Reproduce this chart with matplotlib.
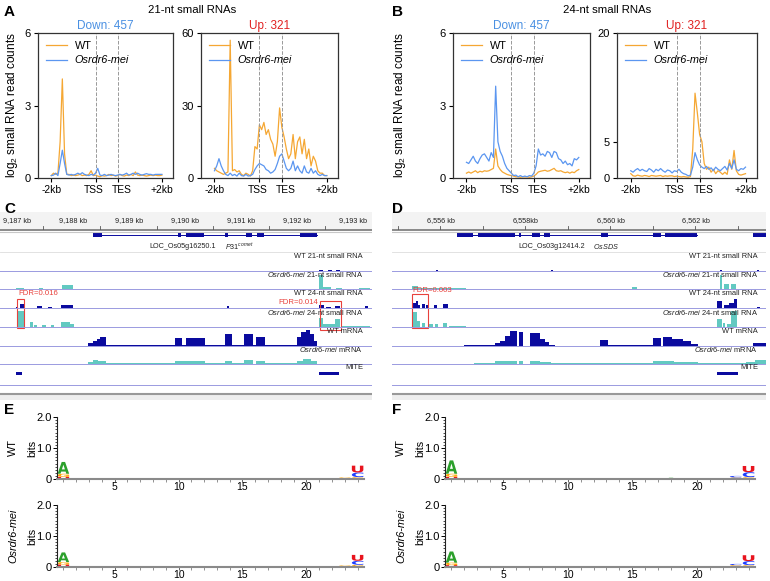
import matplotlib
matplotlib.use("Agg")
import matplotlib.pyplot as plt
from matplotlib.textpath import TextPath
from matplotlib.patches import PathPatch, Rectangle
from matplotlib.font_manager import FontProperties
from matplotlib.transforms import Affine2D, ScaledTranslation

plt.rcParams['font.family'] = ['Liberation Sans', 'DejaVu Sans']
plt.rcParams['mathtext.fontset'] = 'custom'
plt.rcParams['mathtext.rm'] = 'Liberation Sans'
plt.rcParams['mathtext.it'] = 'Liberation Sans:italic'

# ---------------- profile data (A, B): bins -2kb .. +2kb ----------------
bins = list(range(0, 101, 2))
a21_down_wt = [0.1, 0.2, 0.15, 0.2, 1.5, 4.1, 1.0, 0.15, 0.15, 0.1, 0.12, 0.1, 0.12, 0.15, 0.1, 0.12, 0.1,
               0.15, 0.3, 0.1, 0.12, 0.08, 0.05, 0.1, 0.08, 0.1, 0.15, 0.1, 0.12, 0.08, 0.1, 0.15, 0.1,
               0.08, 0.12, 0.1, 0.15, 0.1, 0.25, 0.12, 0.1, 0.12, 0.1, 0.08, 0.1, 0.12, 0.1, 0.12, 0.1, 0.1, 0.12]
a21_down_mut = [0.1, 0.12, 0.2, 0.1, 0.6, 1.15, 0.6, 0.15, 0.12, 0.15, 0.12, 0.15, 0.2, 0.15, 0.22, 0.15, 0.12,
                0.1, 0.15, 0.12, 0.2, 0.4, 0.12, 0.1, 0.15, 0.1, 0.12, 0.15, 0.12, 0.1, 0.12, 0.15, 0.12,
                0.15, 0.2, 0.12, 0.15, 0.2, 0.15, 0.2, 0.15, 0.12, 0.15, 0.18, 0.15, 0.15, 0.12, 0.15, 0.15, 0.15, 0.15]
a21_up_wt = [4, 3, 2.5, 2, 1.5, 2, 2.5, 57, 3, 3.5, 2.5, 3, 1.5, 1, 2, 1.5, 0.8, 3, 13, 12, 22, 20, 23, 18, 20,
             16, 14, 9, 15, 29, 21, 17, 12, 8, 10, 18, 8, 15, 17, 10, 16, 8, 12, 5, 9, 7, 3, 2, 2, 1, 1]
a21_up_mut = [3, 5, 8, 5, 3, 1.5, 1, 2, 1, 1.5, 0.8, 2, 1, 0.8, 1.5, 0.8, 1, 1.5, 3.5, 5, 6, 5.5, 5, 3.5, 3,
              2, 2.5, 3.5, 6, 9, 10, 7, 4, 3, 4, 7, 3, 5, 3, 2, 5, 2.5, 2, 4, 2, 3, 1.5, 1, 1.5, 1, 1]
b24_down_wt = [0.2, 0.25, 0.2, 0.25, 0.3, 0.22, 0.28, 0.25, 0.3, 0.28, 0.3, 0.35, 0.4, 1.2, 0.5, 0.35, 0.25,
               0.2, 0.15, 0.12, 0.1, 0.08, 0.05, 0.05, 0.03, 0.05, 0.04, 0.05, 0.03, 0.05, 0.08, 0.15, 0.25,
               0.28, 0.3, 0.32, 0.28, 0.3, 0.35, 0.4, 0.3, 0.28, 0.3, 0.25, 0.22, 0.25, 0.2, 0.25, 0.22, 0.3, 0.35]
b24_down_mut = [0.65, 0.6, 0.75, 0.9, 0.7, 0.6, 0.8, 0.95, 1.0, 0.85, 0.7, 1.05, 0.85, 3.8, 1.5, 1.1, 0.9,
                0.6, 0.4, 0.3, 0.2, 0.1, 0.12, 0.05, 0.1, 0.05, 0.08, 0.05, 0.1, 0.08, 0.2, 0.5, 1.2,
                0.95, 1.0, 0.9, 1.1, 1.05, 0.85, 1.1, 1.05, 0.8, 0.75, 0.6, 0.7, 0.55, 0.6, 0.5, 0.8, 0.75, 0.85]
b24_up_wt = [0.6, 0.3, 0.25, 0.4, 0.3, 0.25, 0.35, 0.3, 0.2, 0.35, 0.3, 0.25, 0.3, 0.35, 0.2, 0.3, 0.25,
             0.3, 0.3, 0.2, 0.25, 0.2, 0.15, 0.2, 0.15, 0.1, 0.2, 4, 11.7, 9, 6, 5, 2, 1.2, 1.5, 0.8, 1.2,
             0.6, 1.0, 0.8, 0.5, 0.8, 0.5, 2.5, 1.2, 3.8, 1, 0.5, 0.4, 0.5, 0.6]
b24_up_mut = [1.0, 0.8, 1.1, 1.3, 1.0, 1.2, 1.0, 0.9, 1.3, 1.1, 0.8, 1.2, 1.0, 1.3, 1.0, 0.8, 1.1, 1.0, 0.7,
              1.0, 0.9, 1.2, 0.8, 0.6, 0.5, 0.3, 0.4, 1.5, 3.5, 2.5, 1.8, 1.5, 1.3, 1.6, 1.2, 1.4, 1.0,
              1.5, 1.2, 1.0, 1.3, 1.6, 1.1, 2.0, 1.3, 2.5, 1.2, 1.0, 1.3, 1.2, 1.5]
pos_ticks = [0, 40, 60, 100]
pos_labels = ['-2kb', 'TSS', 'TES', '+2kb']

# ---------------- genome browser data (C, D): (start_kb, end_kb, height fraction) ----------------
c_gene = (9188.36, 9192.36)
c_exons = [(9188.36, 9188.52), (9189.87, 9189.93), (9190.02, 9190.34), (9190.71, 9190.77),
           (9191.09, 9191.20), (9191.29, 9191.41), (9192.05, 9192.36)]
c_wt21 = [(9192.40, 9192.47, 0.08), (9192.55, 9192.62, 0.05), (9192.70, 9192.76, 0.06)]
c_mut21 = [(9186.98, 9187.12, 0.06), (9187.40, 9187.46, 0.06), (9187.80, 9188.00, 0.22),
           (9192.40, 9192.46, 0.8), (9192.46, 9192.60, 0.1), (9192.70, 9192.80, 0.08), (9193.10, 9193.30, 0.06)]
c_wt24 = [(9186.98, 9187.02, 0.05), (9187.05, 9187.14, 0.25), (9187.35, 9187.45, 0.12),
          (9187.55, 9187.62, 0.08), (9187.78, 9188.00, 0.2), (9190.75, 9190.78, 0.1),
          (9192.40, 9192.48, 0.2), (9192.52, 9192.60, 0.08), (9192.68, 9192.76, 0.12), (9193.22, 9193.26, 0.1)]
c_mut24 = [(9187.02, 9187.14, 0.95), (9187.23, 9187.28, 0.3), (9187.30, 9187.35, 0.12),
           (9187.45, 9187.52, 0.1), (9187.60, 9187.66, 0.12), (9187.78, 9187.95, 0.28), (9187.95, 9188.02, 0.15),
           (9192.40, 9192.46, 0.5), (9192.46, 9192.68, 0.2), (9192.68, 9192.76, 0.45), (9192.80, 9193.30, 0.08)]
c_wtmrna = [(9188.27, 9188.35, 0.15), (9188.35, 9188.42, 0.3), (9188.42, 9188.48, 0.4), (9188.48, 9188.58, 0.5),
            (9188.58, 9189.82, 0.04), (9189.82, 9189.95, 0.45), (9189.95, 9190.02, 0.04), (9190.02, 9190.35, 0.45),
            (9190.35, 9190.72, 0.04), (9190.72, 9190.84, 0.7), (9190.84, 9191.05, 0.04), (9191.05, 9191.21, 0.7),
            (9191.21, 9191.27, 0.04), (9191.27, 9191.43, 0.55), (9191.43, 9192.00, 0.04), (9192.00, 9192.08, 0.5),
            (9192.08, 9192.16, 0.85), (9192.16, 9192.24, 0.95), (9192.24, 9192.30, 0.7), (9192.30, 9192.36, 0.3)]
c_mutmrna = [(9188.27, 9188.35, 0.1), (9188.35, 9188.45, 0.25), (9188.45, 9188.58, 0.18), (9188.58, 9189.82, 0.04),
             (9189.82, 9190.35, 0.15), (9190.35, 9190.72, 0.04), (9190.72, 9190.84, 0.18), (9190.84, 9191.05, 0.04),
             (9191.05, 9191.21, 0.22), (9191.27, 9191.43, 0.15), (9191.43, 9192.00, 0.04), (9192.00, 9192.10, 0.2),
             (9192.10, 9192.25, 0.32), (9192.25, 9192.36, 0.2)]
c_mite = [(9186.98, 9187.09), (9192.39, 9192.75)]
c_fdr = [(9187.00, 9187.13, 'FDR=0.016'), (9192.41, 9192.79, 'FDR=0.014')]

d_gene = (6556.39, 6562.04)
d_exons = [(6556.39, 6556.76), (6556.88, 6557.75), (6557.85, 6557.89), (6558.15, 6558.34), (6558.44, 6558.58),
           (6559.78, 6559.94), (6561.00, 6561.19), (6561.28, 6562.04), (6563.35, 6563.66)]
d_wt21 = [(6555.90, 6555.95, 0.05), (6558.60, 6558.65, 0.05), (6562.58, 6562.62, 0.08), (6563.45, 6563.50, 0.04)]
d_mut21 = [(6555.33, 6555.47, 0.15), (6555.47, 6556.60, 0.05), (6560.51, 6560.62, 0.1),
           (6562.58, 6562.63, 0.8), (6562.66, 6562.80, 0.3), (6562.84, 6562.95, 0.3)]
d_wt24 = [(6555.35, 6555.42, 0.3), (6555.42, 6555.47, 0.4), (6555.47, 6555.52, 0.15), (6555.56, 6555.64, 0.22),
          (6555.66, 6555.71, 0.15), (6555.85, 6555.92, 0.15), (6556.06, 6556.18, 0.22), (6562.51, 6562.62, 0.4),
          (6562.67, 6562.78, 0.2), (6562.80, 6562.90, 0.3), (6562.90, 6562.98, 0.55), (6563.45, 6563.52, 0.05)]
d_mut24 = [(6555.35, 6555.45, 0.9), (6555.45, 6555.52, 0.35), (6555.56, 6555.64, 0.22), (6555.74, 6555.82, 0.15),
           (6555.86, 6555.94, 0.18), (6556.06, 6556.16, 0.22), (6556.20, 6556.60, 0.05), (6562.51, 6562.62, 0.45),
           (6562.64, 6562.70, 0.22), (6562.74, 6562.84, 0.18), (6562.84, 6562.98, 0.95)]
d_wtmrna = [(6556.55, 6557.28, 0.04), (6557.28, 6557.40, 0.15), (6557.40, 6557.52, 0.3), (6557.52, 6557.64, 0.6),
            (6557.64, 6557.80, 0.9), (6557.85, 6557.94, 0.85), (6558.11, 6558.34, 0.75), (6558.34, 6558.45, 0.4),
            (6558.45, 6558.55, 0.25), (6558.55, 6558.70, 0.04), (6559.75, 6559.94, 0.35), (6559.94, 6561.00, 0.04),
            (6561.00, 6561.20, 0.45), (6561.24, 6561.45, 0.55), (6561.45, 6561.70, 0.4), (6561.70, 6561.90, 0.3),
            (6561.90, 6562.05, 0.1), (6562.05, 6563.35, 0.02), (6563.35, 6563.66, 0.2)]
d_mutmrna = [(6556.80, 6557.28, 0.04), (6557.28, 6557.80, 0.15), (6557.85, 6557.94, 0.15), (6558.11, 6558.34, 0.15),
             (6558.34, 6558.60, 0.1), (6558.60, 6559.75, 0.04), (6559.75, 6559.94, 0.08), (6559.94, 6561.00, 0.04),
             (6561.00, 6561.50, 0.15), (6561.50, 6562.05, 0.1), (6562.05, 6563.20, 0.03), (6563.20, 6563.40, 0.1),
             (6563.40, 6563.66, 0.25)]
d_mite = [(6562.51, 6563.00)]
d_fdr = [(6555.33, 6555.71, 'FDR=0.003')]

track_names = ['WT 21-nt small RNA', r'$\it{Osrdr6}$-$\it{mei}$ 21-nt small RNA', 'WT 24-nt small RNA',
               r'$\it{Osrdr6}$-$\it{mei}$ 24-nt small RNA', 'WT mRNA', r'$\it{Osrdr6}$-$\it{mei}$ mRNA']

# ---------------- sequence logo data (E, F): (position, base, bits), bottom to top ----------------
e_wt = [(1, 'U', 0.07), (1, 'G', 0.1), (1, 'A', 0.38), (2, 'G', 0.02), (3, 'C', 0.015),
        (23, 'C', 0.03), (23, 'G', 0.02), (24, 'G', 0.06), (24, 'C', 0.15), (24, 'U', 0.22)]
e_mut = [(1, 'U', 0.08), (1, 'G', 0.08), (1, 'A', 0.31), (2, 'G', 0.02), (3, 'C', 0.015),
         (23, 'C', 0.03), (23, 'G', 0.02), (24, 'G', 0.07), (24, 'C', 0.13), (24, 'U', 0.19)]
f_wt = [(1, 'U', 0.07), (1, 'G', 0.1), (1, 'A', 0.43), (2, 'G', 0.02), (3, 'A', 0.02), (6, 'G', 0.02),
        (8, 'U', 0.02), (10, 'U', 0.02), (13, 'U', 0.02), (14, 'G', 0.02), (18, 'A', 0.04), (19, 'U', 0.02),
        (23, 'G', 0.05), (23, 'C', 0.05), (24, 'G', 0.06), (24, 'C', 0.16), (24, 'U', 0.2)]
f_mut = [(1, 'U', 0.06), (1, 'G', 0.08), (1, 'A', 0.36), (3, 'A', 0.02), (6, 'G', 0.02), (8, 'G', 0.015),
         (10, 'U', 0.02), (13, 'U', 0.02), (18, 'A', 0.03), (19, 'U', 0.02),
         (23, 'G', 0.06), (23, 'C', 0.04), (24, 'G', 0.06), (24, 'C', 0.13), (24, 'U', 0.19)]
base_colors = {'A': '#2ca02c', 'C': '#1f3fff', 'G': '#ffa500', 'U': '#e8141e'}

ORANGE = '#f5a733'
BLUE = '#5b96f0'
DARK = '#0a0a9e'
TEAL = '#62c9c1'
LINE = '#9a9ae0'
RED = '#e8413c'

W, H = 770, 581
fig = plt.figure(figsize=(W / 100, H / 100), dpi=100)


def px_axes(x0, y0, x1, y1):
    return fig.add_axes([x0 / W, 1 - y1 / H, (x1 - x0) / W, (y1 - y0) / H])


def ftext(x, y, s, **kw):
    fig.text(x / W, 1 - y / H, s, **kw)


# ---------------- A / B ----------------
def profile(box, wt, mut, ymax, yticks, head, head_color):
    ax = px_axes(*box)
    ax.plot(bins, wt, color=ORANGE, lw=0.9, label='WT')
    ax.plot(bins, mut, color=BLUE, lw=0.9, label='Osrdr6-mei')
    for x in (40, 60):
        ax.axvline(x, color='#999999', ls='--', lw=0.7)
    ax.set_xlim(-12, 110)
    ax.set_ylim(0, ymax)
    ax.set_xticks(pos_ticks)
    ax.set_xticklabels(pos_labels)
    ax.set_yticks(yticks)
    ax.tick_params(axis='y', labelsize=8, length=3, width=0.8, pad=2)
    ax.tick_params(axis='x', labelsize=7.4, length=3, width=0.8, pad=2)
    # TSS label sits a bit left, TES a bit right of its tick in the original
    xl = ax.get_xticklabels()
    for lab, dx in ((xl[1], -2), (xl[2], 4)):
        lab.set_transform(lab.get_transform() + ScaledTranslation(dx / 100, 0, fig.dpi_scale_trans))
    for s in ax.spines.values():
        s.set_linewidth(0.9)
        s.set_color('#333333')
    leg = ax.legend(loc='upper left', frameon=False, fontsize=7.8, handlelength=2.0,
                    borderaxespad=0.3, labelspacing=0.45, handletextpad=0.7)
    leg.get_texts()[1].set_style('italic')
    ax.set_title(head, color=head_color, fontsize=8.5, pad=3)
    return ax


profile((38, 33, 173, 178), a21_down_wt, a21_down_mut, 6, [0, 3, 6], 'Down: 457', '#4a90e2')
profile((201, 33, 338, 178), a21_up_wt, a21_up_mut, 60, [0, 30, 60], 'Up: 321', '#e02020')
profile((453, 33, 590, 178), b24_down_wt, b24_down_mut, 6, [0, 3, 6], 'Down: 457', '#4a90e2')
profile((617, 33, 757, 178), b24_up_wt, b24_up_mut, 20, [0, 5, 20], 'Up: 321', '#e02020')

ftext(192, 10, '21-nt small RNAs', fontsize=8.2, ha='center', va='center')
ftext(607, 10, '24-nt small RNAs', fontsize=8.2, ha='center', va='center')
ftext(12, 105, r'log$_2$ small RNA read counts', fontsize=8.5, rotation=90, ha='center', va='center')
ftext(400, 105, r'log$_2$ small RNA read counts', fontsize=8.5, rotation=90, ha='center', va='center')
for letter, x, y in [('A', 4, 12), ('B', 392, 12), ('C', 4, 209), ('D', 392, 209), ('E', 4, 410), ('F', 392, 410)]:
    ftext(x, y, letter, fontsize=11, fontweight='bold', ha='left', va='center')


# ---------------- C / D ----------------
baselines = [271, 289, 308, 327, 346, 364]
TRACK_H = 17


def browser(box, xlim, ruler_ticks, ruler_labels, label_ticks, gene, exons, tracks, mite,
            gene_label, gene_label_x, gene_name, gene_name_x, label_x):
    ax = px_axes(*box)
    ax.set_xlim(*xlim)
    ax.set_ylim(400, 212)
    ax.axis('off')
    ax.axhspan(212, 230, color='#f3f3f3', lw=0)
    ax.axhspan(395, 400, color='#eeeeee', lw=0)
    ax.axhline(230.5, color='#777777', lw=1.2)
    ax.axhline(232.5, color='#c8c8c8', lw=0.8)
    ax.axhline(394.5, color='#999999', lw=1.5)
    for t in ruler_ticks:
        ax.plot([t, t], [226, 229], color='#555555', lw=0.6)
    for t, s in zip(label_ticks, ruler_labels):
        ax.text(t, 221, s, fontsize=5.2, ha='center', va='center', color='#222222')
    # gene model
    ax.plot(gene, [235, 235], color=DARK, lw=0.7)
    for s, e in exons:
        ax.add_patch(Rectangle((s, 233), e - s, 4, color=DARK, lw=0))
    ax.text(gene_label_x, 247, gene_label, fontsize=5.2, ha='center', va='center', color='#222222')
    ax.text(gene_name_x, 247, gene_name, fontsize=5.2, ha='left', va='center', color='#222222')
    # separators and baselines
    ax.axhline(252, color='#dddddd', lw=0.6)
    for b in baselines + [385]:
        ax.axhline(b, color=LINE, lw=0.7)
    for i, (data, color) in enumerate(tracks):
        b = baselines[i]
        for s, e, h in data:
            ax.bar(s, -h * TRACK_H, width=e - s, bottom=b, align='edge', color=color, lw=0)
        ax.text(label_x, b - 14.5, track_names[i], fontsize=5.4, ha='right', va='center', color='#222222')
    for s, e in mite:
        ax.add_patch(Rectangle((s, 372.5), e - s, 2.5, color=DARK, lw=0))
    ax.text(label_x, 368, 'MITE', fontsize=5.4, ha='right', va='center', color='#222222')
    return ax


axc = browser((0, 212, 372, 400), (9186.696, 9193.339),
              [9187.46, 9188.48, 9189.5, 9190.5, 9191.5, 9192.5],
              ['9,187 kb', '9,188 kb', '9,189 kb', '9,190 kb', '9,191 kb', '9,192 kb', '9,193 kb'],
              [9187, 9188, 9189, 9190, 9191, 9192, 9193],
              c_gene, c_exons,
              [(c_wt21, DARK), (c_mut21, TEAL), (c_wt24, DARK), (c_mut24, TEAL), (c_wtmrna, DARK), (c_mutmrna, TEAL)],
              c_mite, 'LOC_Os05g16250.1', 9189.95, r'$\it{P31}^{\it{comet}}$', 9190.71, 9193.18)
(s, e, lab), (s2, e2, lab2) = c_fdr
axc.add_patch(Rectangle((s, 299), e - s, 29, fill=False, ec=RED, lw=0.8))
axc.text(s + 0.02, 294, lab, color=RED, fontsize=5.6, ha='left', va='center')
axc.add_patch(Rectangle((s2, 301), e2 - s2, 29, fill=False, ec=RED, lw=0.8))
axc.text(s2 - 0.03, 303, lab2, color=RED, fontsize=5.6, ha='right', va='center')

axd = browser((392, 212, 766, 400), (6554.859, 6563.659),
              list(range(6555, 6564)),
              ['6,556 kb', '6,558kb', '6,560 kb', '6,562 kb'],
              [6556, 6558, 6560, 6562],
              d_gene, d_exons,
              [(d_wt21, DARK), (d_mut21, TEAL), (d_wt24, DARK), (d_mut24, TEAL), (d_wtmrna, DARK), (d_mutmrna, TEAL)],
              d_mite, 'LOC_Os03g12414.2', 6558.62, r'$\it{OsSDS}$', 6559.59, 6563.47)
s, e, lab = d_fdr[0]
axd.add_patch(Rectangle((s, 294), e - s, 34, fill=False, ec=RED, lw=0.8))
axd.text(s, 291, lab, color=RED, fontsize=5.6, ha='left', va='center')


# ---------------- E / F ----------------
logo_font = FontProperties(family='DejaVu Sans', weight='bold')


def draw_letter(ax, base, x, y, h, w=0.9):
    tp = TextPath((0, 0), base, size=1, prop=logo_font)
    bb = tp.get_extents()
    tr = Affine2D().translate(-bb.x0, -bb.y0).scale(w / bb.width, h / bb.height).translate(x - w / 2, y)
    ax.add_patch(PathPatch(tr.transform_path(tp), color=base_colors[base], lw=0))


def logo(box, stacks, row_label, italic, bits_x, row_x):
    ax = px_axes(*box)
    ax.set_xlim(0.5, 24.5)
    ax.set_ylim(0, 2)
    top = {}
    for p, base, h in stacks:
        y0 = top.get(p, 0)
        draw_letter(ax, base, p, y0, h)
        top[p] = y0 + h
    for side in ('top', 'right'):
        ax.spines[side].set_visible(False)
    ax.spines['left'].set_color('#222222')
    ax.spines['left'].set_linewidth(0.8)
    ax.spines['bottom'].set_color('#8a8a8a')
    ax.spines['bottom'].set_linewidth(1.5)
    ax.set_yticks([0, 1, 2])
    ax.set_yticklabels(['0', '1.0', '2.0'])
    ax.set_yticks([i / 10 for i in range(21)], minor=True)
    ax.set_xticks([5, 10, 15, 20])
    ax.set_xticks(list(range(1, 25)), minor=True)
    ax.tick_params(axis='y', which='major', labelsize=8, length=3, width=0.7, pad=1)
    ax.tick_params(axis='x', which='major', labelsize=7.5, length=2, width=0.7, pad=0.5)
    ax.tick_params(axis='both', which='minor', length=1.8, width=0.5)
    ax.tick_params(axis='x', which='both', color='#666666')
    yc = (box[1] + box[3]) / 2
    ftext(bits_x, yc, 'bits', fontsize=7.8, rotation=90, ha='center', va='center')
    ftext(row_x, yc, row_label, fontsize=7.8, rotation=90, ha='center', va='center',
          style='italic' if italic else 'normal')
    return ax


logo((57, 417, 364, 479), e_wt, 'WT', False, 32, 13)
logo((57, 505, 364, 567), e_mut, 'Osrdr6-mei', True, 32, 13)
logo((445, 417, 755, 479), f_wt, 'WT', False, 420, 401)
logo((445, 505, 755, 567), f_mut, 'Osrdr6-mei', True, 420, 401)

fig.savefig('out.png', dpi=100)
plt.close(fig)
